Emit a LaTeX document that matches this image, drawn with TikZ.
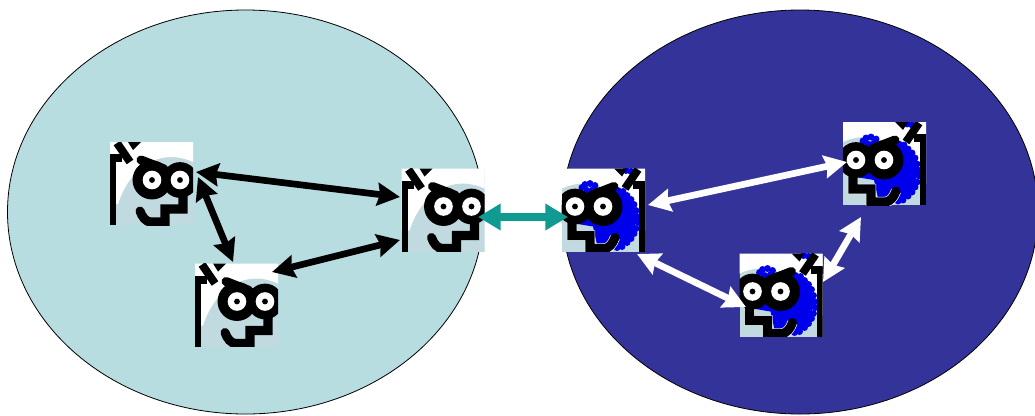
\documentclass[tikz,border=0pt]{standalone}
\usepackage{tikz}
\usetikzlibrary{arrows.meta, shapes.geometric}
\definecolor{lightgroup}{RGB}{184,221,225}
\definecolor{darkgroup}{RGB}{51,51,153}
\definecolor{facegrey}{RGB}{192,218,224}
\definecolor{hairblue}{RGB}{0,0,235}
\definecolor{linkteal}{RGB}{15,154,146}

% face drawn on an 83 x 83 square, origin at its top left corner
\newcommand{\stairpath}{(73,54) -- (73,67) -- (55,67) -- (55,80) -- (41,80) .. controls (36,80) and (32,75) .. (30,69)}
\newcommand{\facebg}{
  \fill[facegrey] (0,0) rectangle (83,83);
  \fill[white] (0,0) -- (83,0) -- (83,20) .. controls (50,5) and (20,25) .. (8,62) -- (0,62) -- cycle;
}
\newcommand{\hairblob}{
  \fill[hairblue] (27,22) -- (13,30) -- (8,48) -- (12,65) -- (22,78) -- (34,76) -- (48,76)
    -- (52,58) -- (70,55) -- (60,40) -- (40,35) -- cycle;
  \foreach \hx/\hy in {27/22, 22/23, 18/27, 14/31, 11/36, 9/42, 8/48, 7/54, 9/60, 11/65, 14/70, 18/74, 23/78,
                       28/79, 50/17, 55/15, 60/16, 63/19, 58/22, 52/21, 14/3, 19/2}
    \fill[hairblue] (\hx,\hy) circle (2.6pt);
  \draw[white, line width=7.8pt, line join=miter] \stairpath;
}
\newcommand{\facelines}{
  \fill[black] (0,13) rectangle (6,83);
  \fill[black] (0,12) rectangle (12,20);
  \draw[black, line width=6pt] (7,1) -- (20,20);
  \fill[black] (18,0) -- (31,0) -- (23,8) -- cycle;
  \draw[black, line width=6.8pt, line cap=round] (31,18) -- (54,27);
  \fill[black] (42,38) circle (14.6pt) (70,38) circle (13.4pt);
  \fill[white] (42,38) circle (7pt) (70,38) circle (7pt);
  \fill[black] (42,38) circle (2.2pt) (70,38) circle (2.2pt);
  \draw[black, line width=6.8pt, line cap=round] \stairpath;
}

\begin{document}
\begin{tikzpicture}[
  x=0.75pt, y=-0.75pt,
  bubble/.style = {ellipse, draw=black, line width=0.6pt, inner sep=0pt, outer sep=0pt,
                   minimum width=357pt, minimum height=303pt},
  icon/.style   = {rectangle, inner sep=0pt, outer sep=0pt, minimum size=62.25pt},
  lightface/.pic = {\begin{scope}
      \clip (0,0) rectangle (83,83);
      \facebg \facelines
    \end{scope}},
  blueface/.pic = {\begin{scope}[xscale=-1]
      \clip (0,0) rectangle (83,83);
      \facebg \hairblob \facelines
    \end{scope}},
  blackarr/.style = {{Stealth[length=17pt,width=17pt,inset=2pt]}-{Stealth[length=17pt,width=17pt,inset=2pt]}, black, line width=5pt},
  whitearr/.style = {{Stealth[length=17pt,width=17pt,inset=2pt]}-{Stealth[length=17pt,width=17pt,inset=2pt]}, white, line width=5pt},
  tealarr/.style  = {{Stealth[length=17pt,width=19pt,inset=0pt]}-{Stealth[length=17pt,width=19pt,inset=0pt]}, linkteal, line width=6pt}
]
\useasboundingbox (0,0) rectangle (1035,415);
\fill[white] (0,0) rectangle (1035,415);

\node[bubble, fill=lightgroup] (lgroup) at (245.5,212) {};
\node[bubble, fill=darkgroup]  (dgroup) at (800,212) {};

\node[icon] (lf1) at (151.5,183.5) {};
\node[icon] (lf2) at (443,210)     {};
\node[icon] (lf3) at (236.5,305)   {};
\node[icon] (rf1) at (603.5,210)   {};
\node[icon] (rf2) at (884.5,163.5) {};
\node[icon] (rf3) at (781,295)     {};

\pic at (lf1.north west) {lightface};
\pic at (lf2.north west) {lightface};
\pic at (lf3.north west) {lightface};
\pic at (rf1.north east) {blueface};
\pic at (rf2.north east) {blueface};
\pic at (rf3.north east) {blueface};

\draw[blackarr] ([shift={(44.5,-11.5)}]lf1.center) -- ([shift={(-43,-13)}]lf2.center);
\draw[blackarr] ([shift={(46.5,-6.5)}]lf1.center) -- ([shift={(-3.5,-43)}]lf3.center);
\draw[blackarr] ([shift={(35.5,-33)}]lf3.center) -- ([shift={(-43,30)}]lf2.center);
\draw[tealarr]  ([shift={(35,7)}]lf2.center) -- ([shift={(-35.5,7)}]rf1.center);
\draw[whitearr] ([shift={(44.5,-5)}]rf1.center) -- ([shift={(-37.5,-1.5)}]rf2.center);
\draw[whitearr] ([shift={(33.5,44)}]rf1.center) -- ([shift={(-35,12)}]rf3.center);
\draw[whitearr] ([shift={(42,-13)}]rf3.center) -- ([shift={(-23.5,53.5)}]rf2.center);
\end{tikzpicture}
\end{document}
